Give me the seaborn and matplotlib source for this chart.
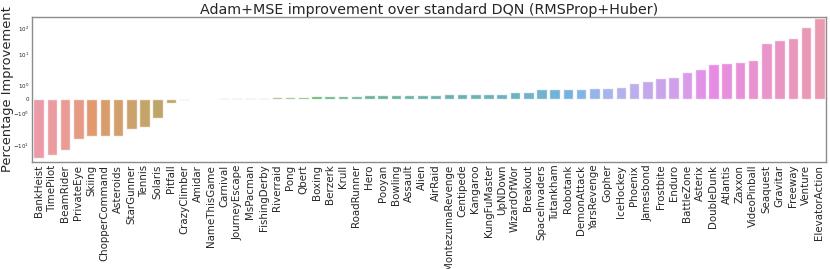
import numpy as np
import pandas as pd
import matplotlib
matplotlib.use("Agg")
import matplotlib.pyplot as plt
import seaborn as sns

# Games sorted by improvement (percent)
games = ["BankHeist", "TimePilot", "BeamRider", "PrivateEye", "Skiing", "ChopperCommand",
         "Asteroids", "StarGunner", "Tennis", "Solaris", "Pitfall", "CrazyClimber", "Amidar",
         "NameThisGame", "Carnival", "JourneyEscape", "MsPacman", "FishingDerby", "Riverraid",
         "Pong", "Qbert", "Boxing", "Berzerk", "Krull", "RoadRunner", "Hero", "Pooyan",
         "Bowling", "Assault", "Alien", "AirRaid", "MontezumaRevenge", "Centipede", "Kangaroo",
         "KungFuMaster", "UpNDown", "WizardOfWor", "Breakout", "SpaceInvaders", "Tutankham",
         "Robotank", "DemonAttack", "YarsRevenge", "Gopher", "IceHockey", "Phoenix",
         "Jamesbond", "Frostbite", "Enduro", "BattleZone", "Asterix", "DoubleDunk", "Atlantis",
         "Zaxxon", "VideoPinball", "Seaquest", "Gravitar", "Freeway", "Venture", "ElevatorAction"]
improvement = [-32.4, -26.0, -15.9, -5.6, -4.6, -4.4,
               -4.3, -2.35, -2.0, -1.32, -0.28, -0.06, 0.03,
               0.05, 0.08, 0.08, 0.12, 0.12, 0.15,
               0.15, 0.2, 0.22, 0.22, 0.25, 0.25, 0.28, 0.3,
               0.3, 0.33, 0.33, 0.33, 0.35, 0.38, 0.38,
               0.38, 0.38, 0.5, 0.5, 0.73, 0.76,
               0.76, 0.76, 0.84, 0.84, 0.91, 1.14,
               1.31, 1.49, 1.62, 1.92, 2.43, 3.93, 4.3,
               4.9, 5.8, 27.5, 35.7, 41.8, 115.0, 276.0]

df = pd.DataFrame({"Game": games, "Improvement": improvement})

sns.set_style("white")
plt.rcParams['font.family'] = ['DejaVu Sans']

fig = plt.figure(figsize=(8.3, 2.69), dpi=100)
ax = fig.add_axes([0.0386, 0.398, 0.9565, 0.539])
sns.barplot(x="Game", y="Improvement", hue="Game", data=df, palette="husl",
            legend=False, ax=ax, edgecolor=(1, 1, 1, 0.7), linewidth=1, alpha=0.8)
ax.set_yscale("symlog", linthresh=2)
ax.set_yticks([-10, -1, 0, 1, 10, 100])
ax.set_yticklabels([r"$-10^{1}$", r"$-10^{0}$", "0", r"$10^{0}$", r"$10^{1}$", r"$10^{2}$"])
ax.tick_params(axis="y", labelsize=4, length=0, pad=2)
ax.tick_params(axis="x", labelsize=7.4, length=0, pad=2, rotation=90)
ax.set_xlabel("")
ax.set_ylabel("Percentage Improvement", fontsize=9.4)
ax.yaxis.set_label_coords(-0.023, 0.5)
ax.set_title("Adam+MSE improvement over standard DQN (RMSProp+Huber)", fontsize=10.3, pad=2)
for s in ax.spines.values():
    s.set_color("0.55")
    s.set_linewidth(1)

plt.savefig("out.png", dpi=100)
